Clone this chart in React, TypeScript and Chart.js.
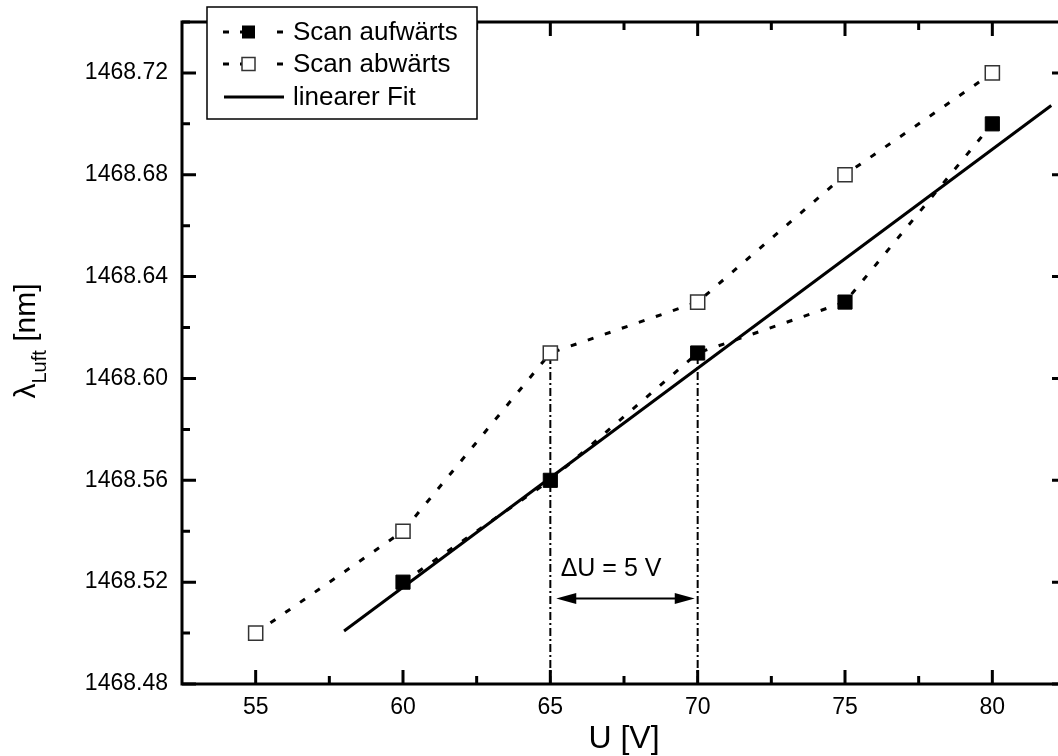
import React, { useEffect, useRef } from 'react';
import { Chart, registerables } from 'chart.js';

Chart.register(...registerables);

// Measured wavelength vs. piezo voltage
const voltagesUp = [60, 65, 70, 75, 80];
const lambdaUp = [1468.52, 1468.56, 1468.61, 1468.63, 1468.70];
const voltagesDown = [55, 60, 65, 70, 75, 80];
const lambdaDown = [1468.50, 1468.54, 1468.61, 1468.63, 1468.68, 1468.72];

// Linear fit of the upward scan, drawn from 58 V to 82 V
const fitVoltages = [58, 82];
const fitLambda = [1468.5008, 1468.7072];

// Axis ticks
const xTicks = [55, 60, 65, 70, 75, 80];
const xMinorTicks = [57.5, 62.5, 67.5, 72.5, 77.5, 82.5];
const yTicks = [1468.48, 1468.52, 1468.56, 1468.6, 1468.64, 1468.68, 1468.72];
const yMinorTicks = [1468.5, 1468.54, 1468.58, 1468.62, 1468.66, 1468.7, 1468.74];

// ΔU marker: guide lines at 65 V and 70 V, arrow between them
const guideVoltages = [65, 70];
const guideBottom = 1468.48;
const guideTop = [1468.61, 1468.61];
const arrowVoltages = [65.2, 69.9];
const arrowLambda = 1468.5136;
const deltaText = 'ΔU = 5 V';
const deltaTextAnchor = [65.35, 1468.5226];

const legendLabels = ['Scan aufwärts', 'Scan abwärts', 'linearer Fit'];

const FONT = '"Liberation Sans", Arial, sans-serif';

const decorations = {
  id: 'decorations',
  afterDraw(chart: any) {
    const { ctx, chartArea: a, scales } = chart;
    const xs = scales.x;
    const ys = scales.y;
    ctx.save();

    // frame
    ctx.strokeStyle = '#000';
    ctx.lineWidth = 3;
    ctx.setLineDash([]);
    ctx.strokeRect(a.left, a.top, a.right - a.left, a.bottom - a.top);

    // inward ticks on all four sides
    ctx.lineWidth = 3;
    ctx.lineCap = 'butt';
    const vTick = (v: number, len: number) => {
      const px = xs.getPixelForValue(v);
      ctx.beginPath();
      ctx.moveTo(px, a.bottom);
      ctx.lineTo(px, a.bottom - len);
      ctx.moveTo(px, a.top);
      ctx.lineTo(px, a.top + len);
      ctx.stroke();
    };
    const hTick = (v: number, len: number) => {
      const py = ys.getPixelForValue(v);
      ctx.beginPath();
      ctx.moveTo(a.left, py);
      ctx.lineTo(a.left + len, py);
      ctx.moveTo(a.right, py);
      ctx.lineTo(a.right - len, py);
      ctx.stroke();
    };
    xTicks.forEach((v) => vTick(v, 14));
    xMinorTicks.forEach((v) => vTick(v, 8));
    yTicks.forEach((v) => hTick(v, 14));
    yMinorTicks.forEach((v) => hTick(v, 8));

    // ΔU arrow
    const ax0 = xs.getPixelForValue(arrowVoltages[0]);
    const ax1 = xs.getPixelForValue(arrowVoltages[1]);
    const ay = ys.getPixelForValue(arrowLambda);
    const head = 20;
    const hw = 5.5;
    ctx.lineWidth = 2;
    ctx.beginPath();
    ctx.moveTo(ax0 + head - 2, ay);
    ctx.lineTo(ax1 - head + 2, ay);
    ctx.stroke();
    ctx.fillStyle = '#000';
    ctx.beginPath();
    ctx.moveTo(ax0, ay);
    ctx.lineTo(ax0 + head, ay - hw);
    ctx.lineTo(ax0 + head, ay + hw);
    ctx.closePath();
    ctx.fill();
    ctx.beginPath();
    ctx.moveTo(ax1, ay);
    ctx.lineTo(ax1 - head, ay - hw);
    ctx.lineTo(ax1 - head, ay + hw);
    ctx.closePath();
    ctx.fill();

    ctx.font = `25px ${FONT}`;
    ctx.textAlign = 'left';
    ctx.textBaseline = 'alphabetic';
    ctx.fillText(deltaText, xs.getPixelForValue(deltaTextAnchor[0]), ys.getPixelForValue(deltaTextAnchor[1]));

    // axis titles
    ctx.font = `32px ${FONT}`;
    ctx.textAlign = 'center';
    ctx.fillText('U [V]', (a.left + a.right) / 2, 748);

    ctx.save();
    ctx.translate(35, 341);
    ctx.rotate(-Math.PI / 2);
    const mainFont = `30px ${FONT}`;
    const subFont = `20px ${FONT}`;
    ctx.font = mainFont;
    const wL = ctx.measureText('λ').width;
    const wR = ctx.measureText(' [nm]').width;
    ctx.font = subFont;
    const wS = ctx.measureText('Luft').width;
    let tx = -(wL + wS + wR) / 2;
    ctx.textAlign = 'left';
    ctx.font = mainFont;
    ctx.fillText('λ', tx, 0);
    tx += wL;
    ctx.font = subFont;
    ctx.fillText('Luft', tx, 11);
    tx += wS;
    ctx.font = mainFont;
    ctx.fillText(' [nm]', tx, 0);
    ctx.restore();

    // legend
    const lx = 207;
    const ly = 7;
    ctx.fillStyle = '#fff';
    ctx.fillRect(lx, ly, 270, 112);
    ctx.strokeStyle = '#000';
    ctx.lineWidth = 1.5;
    ctx.strokeRect(lx, ly, 270, 112);
    const rows = [32, 64, 97];
    ctx.lineWidth = 3;
    rows.forEach((ry, i) => {
      ctx.beginPath();
      if (i < 2) {
        ctx.moveTo(223, ry);
        ctx.lineTo(229, ry);
        ctx.moveTo(240, ry);
        ctx.lineTo(248, ry);
        ctx.moveTo(277, ry);
        ctx.lineTo(283, ry);
      } else {
        ctx.moveTo(224, ry);
        ctx.lineTo(284, ry);
      }
      ctx.stroke();
      if (i === 0) {
        ctx.fillStyle = '#000';
        ctx.fillRect(242, ry - 6.5, 13, 13);
      } else if (i === 1) {
        ctx.fillStyle = '#fff';
        ctx.fillRect(242, ry - 6.5, 13, 13);
        ctx.strokeStyle = '#333';
        ctx.lineWidth = 1.5;
        ctx.strokeRect(242, ry - 6.5, 13, 13);
        ctx.strokeStyle = '#000';
        ctx.lineWidth = 3;
      }
      ctx.fillStyle = '#000';
      ctx.font = `26px ${FONT}`;
      ctx.textAlign = 'left';
      ctx.textBaseline = 'middle';
      ctx.fillText(legendLabels[i], 293, ry + 1);
    });

    ctx.restore();
  },
};

export default function App() {
  const canvasRef = useRef<HTMLCanvasElement | null>(null);

  useEffect(() => {
    const canvas = canvasRef.current;
    if (!canvas) return;

    const pts = (xs: number[], ys: number[]) => xs.map((x, i) => ({ x, y: ys[i] }));
    const noPadding = (s: any) => {
      s.paddingTop = 0;
      s.paddingBottom = 0;
      s.paddingLeft = 0;
      s.paddingRight = 0;
    };

    const chart = new Chart(canvas, {
      type: 'scatter',
      data: {
        datasets: [
          {
            label: legendLabels[0],
            data: pts(voltagesUp, lambdaUp),
            showLine: true,
            borderColor: '#000',
            borderWidth: 3,
            borderDash: [6, 12],
            pointStyle: 'rect',
            pointRadius: 10,
            pointBackgroundColor: '#000',
            pointBorderColor: '#000',
            pointBorderWidth: 1,
            order: 0,
          },
          {
            label: legendLabels[1],
            data: pts(voltagesDown, lambdaDown),
            showLine: true,
            borderColor: '#000',
            borderWidth: 3,
            borderDash: [6, 12],
            pointStyle: 'rect',
            pointRadius: 10,
            pointBackgroundColor: '#fff',
            pointBorderColor: '#333',
            pointBorderWidth: 1.5,
            order: 0,
          },
          {
            label: legendLabels[2],
            data: pts(fitVoltages, fitLambda),
            showLine: true,
            borderColor: '#000',
            borderWidth: 3,
            pointRadius: 0,
            order: 1,
          },
          ...guideVoltages.map((u, i) => ({
            label: `guide ${u}`,
            data: [
              { x: u, y: guideBottom },
              { x: u, y: guideTop[i] },
            ],
            showLine: true,
            borderColor: '#000',
            borderWidth: 2,
            borderDash: [8, 3, 2, 3],
            pointRadius: 0,
            order: 2,
          })),
        ],
      },
      options: {
        animation: false,
        responsive: false,
        devicePixelRatio: 1,
        layout: { padding: { left: 0, top: 22, right: 14, bottom: 0 } },
        plugins: {
          legend: { display: false },
          tooltip: { enabled: false },
        },
        scales: {
          x: {
            type: 'linear',
            min: 52.5,
            max: 82.5,
            afterBuildTicks: (s: any) => {
              s.ticks = xTicks.map((v) => ({ value: v }));
            },
            afterFit: (s: any) => {
              s.height = 72;
              noPadding(s);
            },
            grid: { display: false, drawTicks: false },
            border: { display: false },
            ticks: {
              color: '#000',
              padding: 10,
              maxRotation: 0,
              font: { family: FONT, size: 23 },
              callback: (v: any) => String(v),
            },
          },
          y: {
            type: 'linear',
            min: 1468.48,
            max: 1468.74,
            afterBuildTicks: (s: any) => {
              s.ticks = yTicks.map((v) => ({ value: v }));
            },
            afterFit: (s: any) => {
              s.width = 182;
              noPadding(s);
            },
            grid: { display: false, drawTicks: false },
            border: { display: false },
            ticks: {
              color: '#000',
              padding: 14,
              font: { family: FONT, size: 23 },
              callback: (v: any) => Number(v).toFixed(2),
            },
          },
        },
      },
      plugins: [decorations],
    } as any);

    return () => chart.destroy();
  }, []);

  return (
    <div
      style={{
        position: 'fixed',
        left: 0,
        top: 0,
        width: 1058,
        height: 756,
        overflow: 'hidden',
        background: '#fff',
      }}
    >
      <canvas ref={canvasRef} width={1080} height={756} style={{ display: 'block', width: 1080, height: 756 }} />
    </div>
  );
}
